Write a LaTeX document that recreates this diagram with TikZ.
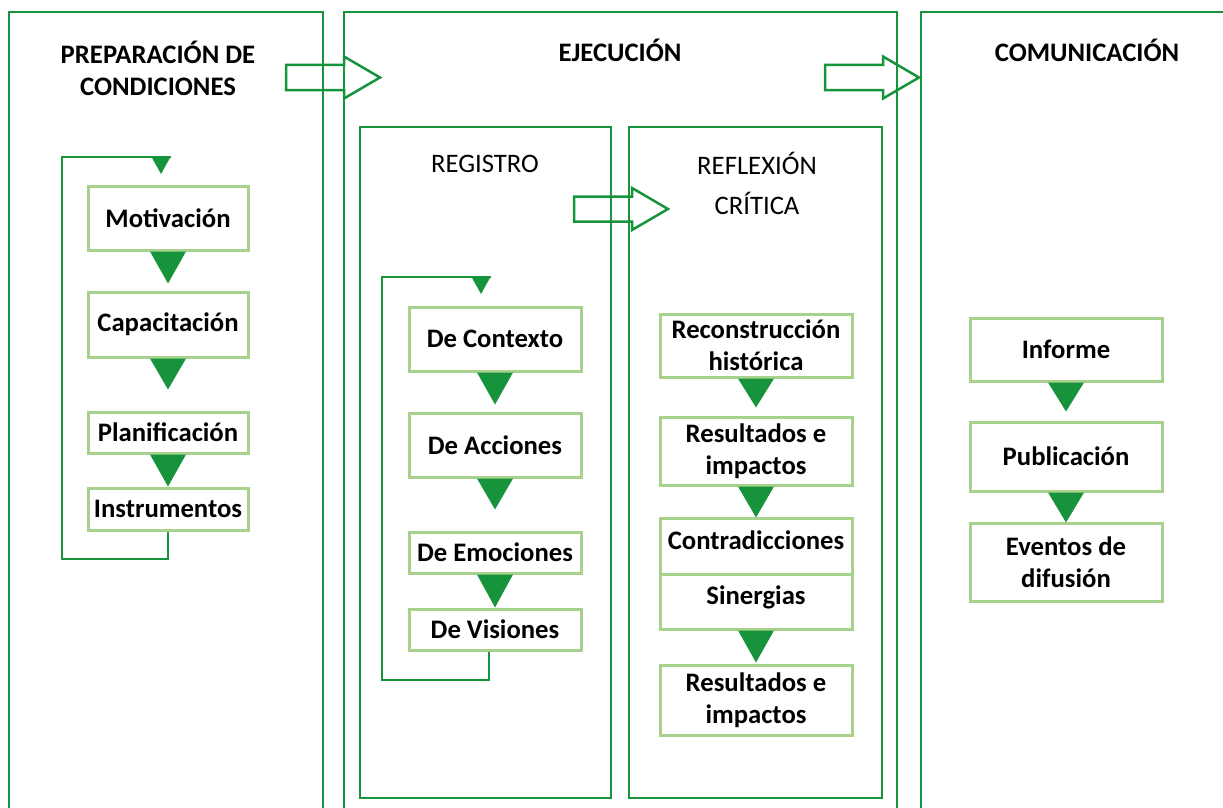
\documentclass[tikz,border=0pt]{standalone}
\usepackage{fontspec}
\setmainfont{Carlito}
\usepackage{tikz}
\usetikzlibrary{positioning}
\definecolor{verde}{HTML}{17943B}
\definecolor{verdeclaro}{HTML}{A9D18E}
\tikzset{
  caja/.style={rectangle, draw=verdeclaro, line width=3pt, fill=white, align=center,
               font=\bfseries\fontsize{26.7}{32}\selectfont, minimum width=#1,
               inner sep=2pt, outer sep=0pt},
  titulo/.style={align=center, font=\bfseries\fontsize{26.7}{32}\selectfont},
  subtitulo/.style={align=center, font=\fontsize{26.7}{40}\selectfont},
  marco/.style={draw=verde, line width=2pt},
  lazo/.style={draw=verde, line width=2pt},
  bloque/.pic={\draw[verde, line width=2.5pt, line join=miter]
               (0,-12.5) -- (58,-12.5) -- (58,-21) -- (94,0) -- (58,21) -- (58,12.5) -- (0,12.5) -- cycle;},
}
\newcommand{\bajar}[2]{\fill[verde] ([yshift=-1.5pt]#1.south) ++(-18,0) -- ++(36,0) -- ++(-18,#2) -- cycle;}
\newcommand{\punta}[1]{\fill[verde] (#1) -- ++(-10,-18) -- ++(20,0) -- cycle;}

\begin{document}
\begin{tikzpicture}[x=1pt, y=-1pt]
  \useasboundingbox (0,0) rectangle (1223,808);
  % paneles
  \draw[marco] (9,812) |- (323,12) -- (323,812);
  \draw[marco] (344,812) |- (897,12) -- (897,812);
  \draw[marco] (921,812) |- (1230,12);
  \draw[marco] (360,127) rectangle (611,798);
  \draw[marco] (629,127) rectangle (882,798);
  \pic at (286,77.5) {bloque};
  \pic at (825,77.5) {bloque};
  \pic at (574,209) {bloque};

  \node[titulo] (prep) at (158,68) {PREPARACIÓN DE\\CONDICIONES};
  \node[titulo, anchor=base] (ejec) at (620,62) {EJECUCIÓN};
  \node[titulo, anchor=base] (comu) at (1087,62) {COMUNICACIÓN};
  \node[subtitulo, anchor=base] (regi) at (485,172) {REGISTRO};
  \node[subtitulo] (refl) at (757,183) {REFLEXIÓN\\CRÍTICA};

  % preparacion
  \node[caja=160, minimum height=64] (mot) at (168,218) {Motivación};
  \node[caja=160, minimum height=65, below=42pt of mot] (cap) {Capacitación};
  \node[caja=160, minimum height=41, below=55pt of cap] (pla) {Planificación};
  \node[caja=160, minimum height=42, below=35pt of pla] (ins) {Instrumentos};
  \bajar{mot}{32} \bajar{cap}{31} \bajar{pla}{32}
  \coordinate (entradaA) at (161,174);
  \draw[lazo] ([yshift=-1.5pt]ins.south) |- (62,559) |- (171,157);
  \punta{entradaA}

  % registro
  \node[caja=172, minimum height=64] (ctx) at (495,339) {De Contexto};
  \node[caja=172, minimum height=64, below=42pt of ctx] (acc) {De Acciones};
  \node[caja=172, minimum height=41, below=55pt of acc] (emo) {De Emociones};
  \node[caja=172, minimum height=41, below=36pt of emo] (vis) {De Visiones};
  \bajar{ctx}{32} \bajar{acc}{31} \bajar{emo}{33}
  \coordinate (entradaB) at (481,294);
  \draw[lazo] ([xshift=-6pt, yshift=-1.5pt]vis.south) |- (382,680) |- (491,277);
  \punta{entradaB}

  % reflexion critica
  \node[caja=192, minimum height=63] (rec) at (756,345.5) {Reconstrucción\\histórica};
  \node[caja=192, minimum height=68, below=40pt of rec] (res) {Resultados e\\impactos};
  \node[caja=192, minimum height=56, below=33pt of res, text depth=12pt] (con) {Contradicciones};
  \node[caja=192, minimum height=55, below=0pt of con, text depth=12pt] (sin) {Sinergias};
  \node[caja=192, minimum height=70, below=36pt of sin] (imp) {Resultados e\\impactos};
  \bajar{rec}{29} \bajar{res}{31} \bajar{sin}{32}

  % comunicacion
  \node[caja=192, minimum height=63] (inf) at (1066,349.5) {Informe};
  \node[caja=192, minimum height=69, below=41pt of inf] (pub) {Publicación};
  \node[caja=192, minimum height=78, below=32pt of pub] (eve) {Eventos de\\difusión};
  \bajar{inf}{29} \bajar{pub}{30}
\end{tikzpicture}
\end{document}
